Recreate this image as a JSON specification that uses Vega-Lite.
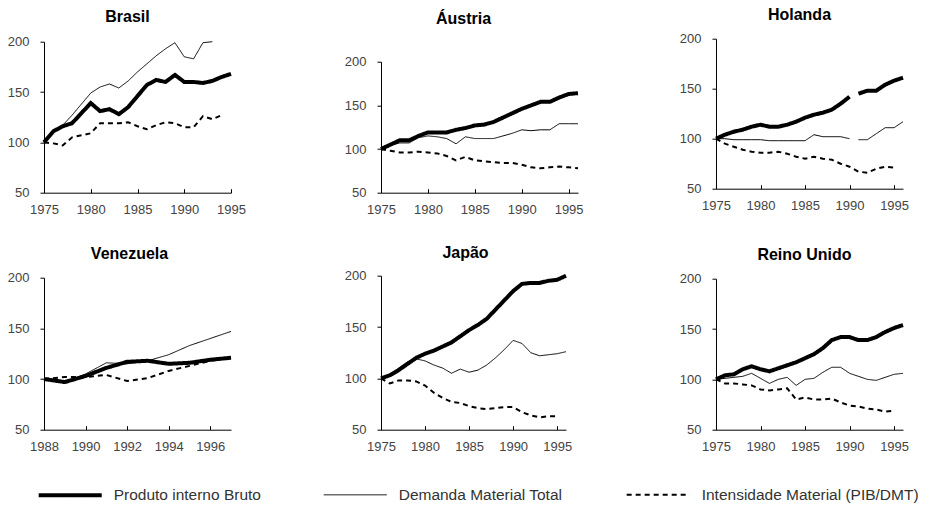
{
  "$schema": "https://vega.github.io/schema/vega-lite/v6.json",
  "background": "white",
  "padding": {"left": 7, "top": 6.7, "right": 0, "bottom": 0},
  "datasets": {
    "d": [
      {"p":"Brasil","s":"PIB","a":1975,"v":100},{"p":"Brasil","s":"PIB","a":1976,"v":111},{"p":"Brasil","s":"PIB","a":1977,"v":116},{"p":"Brasil","s":"PIB","a":1978,"v":119},{"p":"Brasil","s":"PIB","a":1979,"v":129},{"p":"Brasil","s":"PIB","a":1980,"v":139},{"p":"Brasil","s":"PIB","a":1981,"v":131},{"p":"Brasil","s":"PIB","a":1982,"v":133},{"p":"Brasil","s":"PIB","a":1983,"v":128},{"p":"Brasil","s":"PIB","a":1984,"v":135},{"p":"Brasil","s":"PIB","a":1985,"v":146},{"p":"Brasil","s":"PIB","a":1986,"v":157},{"p":"Brasil","s":"PIB","a":1987,"v":162},{"p":"Brasil","s":"PIB","a":1988,"v":160},{"p":"Brasil","s":"PIB","a":1989,"v":167},{"p":"Brasil","s":"PIB","a":1990,"v":160},{"p":"Brasil","s":"PIB","a":1991,"v":160},{"p":"Brasil","s":"PIB","a":1992,"v":159},{"p":"Brasil","s":"PIB","a":1993,"v":161},{"p":"Brasil","s":"PIB","a":1994,"v":165},{"p":"Brasil","s":"PIB","a":1995,"v":168},
      {"p":"Brasil","s":"DMT","a":1975,"v":100},{"p":"Brasil","s":"DMT","a":1976,"v":111},{"p":"Brasil","s":"DMT","a":1977,"v":117},{"p":"Brasil","s":"DMT","a":1978,"v":127},{"p":"Brasil","s":"DMT","a":1979,"v":138},{"p":"Brasil","s":"DMT","a":1980,"v":149},{"p":"Brasil","s":"DMT","a":1981,"v":155},{"p":"Brasil","s":"DMT","a":1982,"v":158},{"p":"Brasil","s":"DMT","a":1983,"v":154},{"p":"Brasil","s":"DMT","a":1984,"v":161},{"p":"Brasil","s":"DMT","a":1985,"v":170},{"p":"Brasil","s":"DMT","a":1986,"v":178},{"p":"Brasil","s":"DMT","a":1987,"v":186},{"p":"Brasil","s":"DMT","a":1988,"v":193},{"p":"Brasil","s":"DMT","a":1989,"v":199},{"p":"Brasil","s":"DMT","a":1990,"v":185},{"p":"Brasil","s":"DMT","a":1991,"v":183},{"p":"Brasil","s":"DMT","a":1992,"v":199},{"p":"Brasil","s":"DMT","a":1993,"v":200},
      {"p":"Brasil","s":"INT","a":1975,"v":100},{"p":"Brasil","s":"INT","a":1976,"v":99},{"p":"Brasil","s":"INT","a":1977,"v":97},{"p":"Brasil","s":"INT","a":1978,"v":105},{"p":"Brasil","s":"INT","a":1979,"v":107},{"p":"Brasil","s":"INT","a":1980,"v":109},{"p":"Brasil","s":"INT","a":1981,"v":119},{"p":"Brasil","s":"INT","a":1982,"v":119},{"p":"Brasil","s":"INT","a":1983,"v":119},{"p":"Brasil","s":"INT","a":1984,"v":120},{"p":"Brasil","s":"INT","a":1985,"v":116},{"p":"Brasil","s":"INT","a":1986,"v":113},{"p":"Brasil","s":"INT","a":1987,"v":117},{"p":"Brasil","s":"INT","a":1988,"v":120},{"p":"Brasil","s":"INT","a":1989,"v":119},{"p":"Brasil","s":"INT","a":1990,"v":115},{"p":"Brasil","s":"INT","a":1991,"v":115},{"p":"Brasil","s":"INT","a":1992,"v":126},{"p":"Brasil","s":"INT","a":1993,"v":123},{"p":"Brasil","s":"INT","a":1994,"v":127},

      {"p":"Austria","s":"PIB","a":1975,"v":100},{"p":"Austria","s":"PIB","a":1976,"v":105},{"p":"Austria","s":"PIB","a":1977,"v":110},{"p":"Austria","s":"PIB","a":1978,"v":110},{"p":"Austria","s":"PIB","a":1979,"v":115},{"p":"Austria","s":"PIB","a":1980,"v":119},{"p":"Austria","s":"PIB","a":1981,"v":119},{"p":"Austria","s":"PIB","a":1982,"v":119},{"p":"Austria","s":"PIB","a":1983,"v":122},{"p":"Austria","s":"PIB","a":1984,"v":124},{"p":"Austria","s":"PIB","a":1985,"v":127},{"p":"Austria","s":"PIB","a":1986,"v":128},{"p":"Austria","s":"PIB","a":1987,"v":131},{"p":"Austria","s":"PIB","a":1988,"v":136},{"p":"Austria","s":"PIB","a":1989,"v":141},{"p":"Austria","s":"PIB","a":1990,"v":146},{"p":"Austria","s":"PIB","a":1991,"v":150},{"p":"Austria","s":"PIB","a":1992,"v":154},{"p":"Austria","s":"PIB","a":1993,"v":154},{"p":"Austria","s":"PIB","a":1994,"v":159},{"p":"Austria","s":"PIB","a":1995,"v":163},{"p":"Austria","s":"PIB","a":1996,"v":164},
      {"p":"Austria","s":"DMT","a":1975,"v":100},{"p":"Austria","s":"DMT","a":1976,"v":104},{"p":"Austria","s":"DMT","a":1977,"v":107},{"p":"Austria","s":"DMT","a":1978,"v":107},{"p":"Austria","s":"DMT","a":1979,"v":113},{"p":"Austria","s":"DMT","a":1980,"v":115},{"p":"Austria","s":"DMT","a":1981,"v":114},{"p":"Austria","s":"DMT","a":1982,"v":112},{"p":"Austria","s":"DMT","a":1983,"v":106},{"p":"Austria","s":"DMT","a":1984,"v":114},{"p":"Austria","s":"DMT","a":1985,"v":112},{"p":"Austria","s":"DMT","a":1986,"v":112},{"p":"Austria","s":"DMT","a":1987,"v":112},{"p":"Austria","s":"DMT","a":1988,"v":115},{"p":"Austria","s":"DMT","a":1989,"v":118},{"p":"Austria","s":"DMT","a":1990,"v":122},{"p":"Austria","s":"DMT","a":1991,"v":121},{"p":"Austria","s":"DMT","a":1992,"v":122},{"p":"Austria","s":"DMT","a":1993,"v":122},{"p":"Austria","s":"DMT","a":1994,"v":129},{"p":"Austria","s":"DMT","a":1995,"v":129},{"p":"Austria","s":"DMT","a":1996,"v":129},
      {"p":"Austria","s":"INT","a":1975,"v":100},{"p":"Austria","s":"INT","a":1976,"v":98},{"p":"Austria","s":"INT","a":1977,"v":96},{"p":"Austria","s":"INT","a":1978,"v":96},{"p":"Austria","s":"INT","a":1979,"v":97},{"p":"Austria","s":"INT","a":1980,"v":96},{"p":"Austria","s":"INT","a":1981,"v":95},{"p":"Austria","s":"INT","a":1982,"v":92},{"p":"Austria","s":"INT","a":1983,"v":87},{"p":"Austria","s":"INT","a":1984,"v":91},{"p":"Austria","s":"INT","a":1985,"v":87},{"p":"Austria","s":"INT","a":1986,"v":86},{"p":"Austria","s":"INT","a":1987,"v":85},{"p":"Austria","s":"INT","a":1988,"v":84},{"p":"Austria","s":"INT","a":1989,"v":84},{"p":"Austria","s":"INT","a":1990,"v":82},{"p":"Austria","s":"INT","a":1991,"v":79},{"p":"Austria","s":"INT","a":1992,"v":78},{"p":"Austria","s":"INT","a":1993,"v":79},{"p":"Austria","s":"INT","a":1994,"v":80},{"p":"Austria","s":"INT","a":1995,"v":79},{"p":"Austria","s":"INT","a":1996,"v":78},

      {"p":"Holanda","s":"PIB","a":1975,"v":100},{"p":"Holanda","s":"PIB","a":1976,"v":104},{"p":"Holanda","s":"PIB","a":1977,"v":107},{"p":"Holanda","s":"PIB","a":1978,"v":109},{"p":"Holanda","s":"PIB","a":1979,"v":112},{"p":"Holanda","s":"PIB","a":1980,"v":114},{"p":"Holanda","s":"PIB","a":1981,"v":112},{"p":"Holanda","s":"PIB","a":1982,"v":112},{"p":"Holanda","s":"PIB","a":1983,"v":114},{"p":"Holanda","s":"PIB","a":1984,"v":117},{"p":"Holanda","s":"PIB","a":1985,"v":121},{"p":"Holanda","s":"PIB","a":1986,"v":124},{"p":"Holanda","s":"PIB","a":1987,"v":126},{"p":"Holanda","s":"PIB","a":1988,"v":129},{"p":"Holanda","s":"PIB","a":1989,"v":135},{"p":"Holanda","s":"PIB","a":1990,"v":142},{"p":"Holanda","s":"PIB","a":1990.5,"v":null},{"p":"Holanda","s":"PIB","a":1991,"v":145},{"p":"Holanda","s":"PIB","a":1992,"v":148},{"p":"Holanda","s":"PIB","a":1993,"v":148},{"p":"Holanda","s":"PIB","a":1994,"v":154},{"p":"Holanda","s":"PIB","a":1995,"v":158},{"p":"Holanda","s":"PIB","a":1996,"v":161},
      {"p":"Holanda","s":"DMT","a":1975,"v":100},{"p":"Holanda","s":"DMT","a":1976,"v":100},{"p":"Holanda","s":"DMT","a":1977,"v":99},{"p":"Holanda","s":"DMT","a":1978,"v":99},{"p":"Holanda","s":"DMT","a":1979,"v":99},{"p":"Holanda","s":"DMT","a":1980,"v":99},{"p":"Holanda","s":"DMT","a":1981,"v":98},{"p":"Holanda","s":"DMT","a":1982,"v":98},{"p":"Holanda","s":"DMT","a":1983,"v":98},{"p":"Holanda","s":"DMT","a":1984,"v":98},{"p":"Holanda","s":"DMT","a":1985,"v":98},{"p":"Holanda","s":"DMT","a":1986,"v":104},{"p":"Holanda","s":"DMT","a":1987,"v":102},{"p":"Holanda","s":"DMT","a":1988,"v":102},{"p":"Holanda","s":"DMT","a":1989,"v":102},{"p":"Holanda","s":"DMT","a":1990,"v":100},{"p":"Holanda","s":"DMT","a":1990.5,"v":null},{"p":"Holanda","s":"DMT","a":1991,"v":99},{"p":"Holanda","s":"DMT","a":1992,"v":99},{"p":"Holanda","s":"DMT","a":1993,"v":105},{"p":"Holanda","s":"DMT","a":1994,"v":111},{"p":"Holanda","s":"DMT","a":1995,"v":111},{"p":"Holanda","s":"DMT","a":1996,"v":117},
      {"p":"Holanda","s":"INT","a":1975,"v":100},{"p":"Holanda","s":"INT","a":1976,"v":95},{"p":"Holanda","s":"INT","a":1977,"v":92},{"p":"Holanda","s":"INT","a":1978,"v":89},{"p":"Holanda","s":"INT","a":1979,"v":87},{"p":"Holanda","s":"INT","a":1980,"v":86},{"p":"Holanda","s":"INT","a":1981,"v":86},{"p":"Holanda","s":"INT","a":1982,"v":87},{"p":"Holanda","s":"INT","a":1983,"v":85},{"p":"Holanda","s":"INT","a":1984,"v":82},{"p":"Holanda","s":"INT","a":1985,"v":80},{"p":"Holanda","s":"INT","a":1986,"v":82},{"p":"Holanda","s":"INT","a":1987,"v":80},{"p":"Holanda","s":"INT","a":1988,"v":79},{"p":"Holanda","s":"INT","a":1989,"v":75},{"p":"Holanda","s":"INT","a":1990,"v":72},{"p":"Holanda","s":"INT","a":1991,"v":67},{"p":"Holanda","s":"INT","a":1992,"v":66},{"p":"Holanda","s":"INT","a":1993,"v":70},{"p":"Holanda","s":"INT","a":1994,"v":72},{"p":"Holanda","s":"INT","a":1995,"v":71},

      {"p":"Venezuela","s":"PIB","a":1988,"v":100},{"p":"Venezuela","s":"PIB","a":1989,"v":97},{"p":"Venezuela","s":"PIB","a":1990,"v":103},{"p":"Venezuela","s":"PIB","a":1991,"v":111},{"p":"Venezuela","s":"PIB","a":1992,"v":117},{"p":"Venezuela","s":"PIB","a":1993,"v":118},{"p":"Venezuela","s":"PIB","a":1994,"v":115},{"p":"Venezuela","s":"PIB","a":1995,"v":116},{"p":"Venezuela","s":"PIB","a":1996,"v":119},{"p":"Venezuela","s":"PIB","a":1997,"v":121},
      {"p":"Venezuela","s":"DMT","a":1988,"v":100},{"p":"Venezuela","s":"DMT","a":1989,"v":97},{"p":"Venezuela","s":"DMT","a":1990,"v":105},{"p":"Venezuela","s":"DMT","a":1991,"v":116},{"p":"Venezuela","s":"DMT","a":1992,"v":115},{"p":"Venezuela","s":"DMT","a":1993,"v":118},{"p":"Venezuela","s":"DMT","a":1994,"v":124},{"p":"Venezuela","s":"DMT","a":1995,"v":133},{"p":"Venezuela","s":"DMT","a":1996,"v":140},{"p":"Venezuela","s":"DMT","a":1997,"v":147},
      {"p":"Venezuela","s":"INT","a":1988,"v":100},{"p":"Venezuela","s":"INT","a":1989,"v":102},{"p":"Venezuela","s":"INT","a":1990,"v":102},{"p":"Venezuela","s":"INT","a":1991,"v":104},{"p":"Venezuela","s":"INT","a":1992,"v":98},{"p":"Venezuela","s":"INT","a":1993,"v":101},{"p":"Venezuela","s":"INT","a":1994,"v":108},{"p":"Venezuela","s":"INT","a":1995,"v":113},{"p":"Venezuela","s":"INT","a":1996,"v":118},{"p":"Venezuela","s":"INT","a":1997,"v":121},

      {"p":"Japao","s":"PIB","a":1975,"v":100},{"p":"Japao","s":"PIB","a":1976,"v":103},{"p":"Japao","s":"PIB","a":1977,"v":108},{"p":"Japao","s":"PIB","a":1978,"v":114},{"p":"Japao","s":"PIB","a":1979,"v":120},{"p":"Japao","s":"PIB","a":1980,"v":124},{"p":"Japao","s":"PIB","a":1981,"v":127},{"p":"Japao","s":"PIB","a":1982,"v":131},{"p":"Japao","s":"PIB","a":1983,"v":135},{"p":"Japao","s":"PIB","a":1984,"v":141},{"p":"Japao","s":"PIB","a":1985,"v":147},{"p":"Japao","s":"PIB","a":1986,"v":152},{"p":"Japao","s":"PIB","a":1987,"v":158},{"p":"Japao","s":"PIB","a":1988,"v":167},{"p":"Japao","s":"PIB","a":1989,"v":176},{"p":"Japao","s":"PIB","a":1990,"v":185},{"p":"Japao","s":"PIB","a":1991,"v":192},{"p":"Japao","s":"PIB","a":1992,"v":193},{"p":"Japao","s":"PIB","a":1993,"v":193},{"p":"Japao","s":"PIB","a":1994,"v":195},{"p":"Japao","s":"PIB","a":1995,"v":196},{"p":"Japao","s":"PIB","a":1996,"v":200},
      {"p":"Japao","s":"DMT","a":1975,"v":100},{"p":"Japao","s":"DMT","a":1976,"v":104},{"p":"Japao","s":"DMT","a":1977,"v":110},{"p":"Japao","s":"DMT","a":1978,"v":116},{"p":"Japao","s":"DMT","a":1979,"v":119},{"p":"Japao","s":"DMT","a":1980,"v":117},{"p":"Japao","s":"DMT","a":1981,"v":113},{"p":"Japao","s":"DMT","a":1982,"v":110},{"p":"Japao","s":"DMT","a":1983,"v":105},{"p":"Japao","s":"DMT","a":1984,"v":109},{"p":"Japao","s":"DMT","a":1985,"v":106},{"p":"Japao","s":"DMT","a":1986,"v":108},{"p":"Japao","s":"DMT","a":1987,"v":113},{"p":"Japao","s":"DMT","a":1988,"v":120},{"p":"Japao","s":"DMT","a":1989,"v":128},{"p":"Japao","s":"DMT","a":1990,"v":137},{"p":"Japao","s":"DMT","a":1991,"v":134},{"p":"Japao","s":"DMT","a":1992,"v":125},{"p":"Japao","s":"DMT","a":1993,"v":122},{"p":"Japao","s":"DMT","a":1994,"v":123},{"p":"Japao","s":"DMT","a":1995,"v":124},{"p":"Japao","s":"DMT","a":1996,"v":126},
      {"p":"Japao","s":"INT","a":1975,"v":100},{"p":"Japao","s":"INT","a":1976,"v":95},{"p":"Japao","s":"INT","a":1977,"v":98},{"p":"Japao","s":"INT","a":1978,"v":98},{"p":"Japao","s":"INT","a":1979,"v":97},{"p":"Japao","s":"INT","a":1980,"v":93},{"p":"Japao","s":"INT","a":1981,"v":86},{"p":"Japao","s":"INT","a":1982,"v":81},{"p":"Japao","s":"INT","a":1983,"v":77},{"p":"Japao","s":"INT","a":1984,"v":76},{"p":"Japao","s":"INT","a":1985,"v":73},{"p":"Japao","s":"INT","a":1986,"v":71},{"p":"Japao","s":"INT","a":1987,"v":70},{"p":"Japao","s":"INT","a":1988,"v":71},{"p":"Japao","s":"INT","a":1989,"v":72},{"p":"Japao","s":"INT","a":1990,"v":72},{"p":"Japao","s":"INT","a":1991,"v":67},{"p":"Japao","s":"INT","a":1992,"v":64},{"p":"Japao","s":"INT","a":1993,"v":62},{"p":"Japao","s":"INT","a":1994,"v":63},{"p":"Japao","s":"INT","a":1995,"v":63},

      {"p":"Reino Unido","s":"PIB","a":1975,"v":100},{"p":"Reino Unido","s":"PIB","a":1976,"v":104},{"p":"Reino Unido","s":"PIB","a":1977,"v":105},{"p":"Reino Unido","s":"PIB","a":1978,"v":110},{"p":"Reino Unido","s":"PIB","a":1979,"v":113},{"p":"Reino Unido","s":"PIB","a":1980,"v":110},{"p":"Reino Unido","s":"PIB","a":1981,"v":108},{"p":"Reino Unido","s":"PIB","a":1982,"v":111},{"p":"Reino Unido","s":"PIB","a":1983,"v":114},{"p":"Reino Unido","s":"PIB","a":1984,"v":117},{"p":"Reino Unido","s":"PIB","a":1985,"v":121},{"p":"Reino Unido","s":"PIB","a":1986,"v":125},{"p":"Reino Unido","s":"PIB","a":1987,"v":131},{"p":"Reino Unido","s":"PIB","a":1988,"v":139},{"p":"Reino Unido","s":"PIB","a":1989,"v":142},{"p":"Reino Unido","s":"PIB","a":1990,"v":142},{"p":"Reino Unido","s":"PIB","a":1991,"v":139},{"p":"Reino Unido","s":"PIB","a":1992,"v":139},{"p":"Reino Unido","s":"PIB","a":1993,"v":142},{"p":"Reino Unido","s":"PIB","a":1994,"v":147},{"p":"Reino Unido","s":"PIB","a":1995,"v":151},{"p":"Reino Unido","s":"PIB","a":1996,"v":154},
      {"p":"Reino Unido","s":"DMT","a":1975,"v":100},{"p":"Reino Unido","s":"DMT","a":1976,"v":101},{"p":"Reino Unido","s":"DMT","a":1977,"v":102},{"p":"Reino Unido","s":"DMT","a":1978,"v":103},{"p":"Reino Unido","s":"DMT","a":1979,"v":106},{"p":"Reino Unido","s":"DMT","a":1980,"v":101},{"p":"Reino Unido","s":"DMT","a":1981,"v":96},{"p":"Reino Unido","s":"DMT","a":1982,"v":100},{"p":"Reino Unido","s":"DMT","a":1983,"v":102},{"p":"Reino Unido","s":"DMT","a":1984,"v":94},{"p":"Reino Unido","s":"DMT","a":1985,"v":100},{"p":"Reino Unido","s":"DMT","a":1986,"v":101},{"p":"Reino Unido","s":"DMT","a":1987,"v":107},{"p":"Reino Unido","s":"DMT","a":1988,"v":112},{"p":"Reino Unido","s":"DMT","a":1989,"v":112},{"p":"Reino Unido","s":"DMT","a":1990,"v":106},{"p":"Reino Unido","s":"DMT","a":1991,"v":103},{"p":"Reino Unido","s":"DMT","a":1992,"v":100},{"p":"Reino Unido","s":"DMT","a":1993,"v":99},{"p":"Reino Unido","s":"DMT","a":1994,"v":102},{"p":"Reino Unido","s":"DMT","a":1995,"v":105},{"p":"Reino Unido","s":"DMT","a":1996,"v":106},
      {"p":"Reino Unido","s":"INT","a":1975,"v":100},{"p":"Reino Unido","s":"INT","a":1976,"v":96},{"p":"Reino Unido","s":"INT","a":1977,"v":96},{"p":"Reino Unido","s":"INT","a":1978,"v":95},{"p":"Reino Unido","s":"INT","a":1979,"v":94},{"p":"Reino Unido","s":"INT","a":1980,"v":90},{"p":"Reino Unido","s":"INT","a":1981,"v":89},{"p":"Reino Unido","s":"INT","a":1982,"v":90},{"p":"Reino Unido","s":"INT","a":1983,"v":91},{"p":"Reino Unido","s":"INT","a":1984,"v":80},{"p":"Reino Unido","s":"INT","a":1985,"v":82},{"p":"Reino Unido","s":"INT","a":1986,"v":80},{"p":"Reino Unido","s":"INT","a":1987,"v":80},{"p":"Reino Unido","s":"INT","a":1988,"v":81},{"p":"Reino Unido","s":"INT","a":1989,"v":77},{"p":"Reino Unido","s":"INT","a":1990,"v":74},{"p":"Reino Unido","s":"INT","a":1991,"v":73},{"p":"Reino Unido","s":"INT","a":1992,"v":71},{"p":"Reino Unido","s":"INT","a":1993,"v":70},{"p":"Reino Unido","s":"INT","a":1994,"v":68},{"p":"Reino Unido","s":"INT","a":1995,"v":69}
    ]
  },
  "data": {"name": "d"},
  "vconcat": [
    {
      "hconcat": [
        {
          "title": {"text": "Brasil", "dx": -10, "offset": 10.5},
          "width": 187, "height": 154,
          "transform": [{"filter": "datum.p == 'Brasil'"}],
          "mark": {"type": "line", "color": "black"},
          "encoding": {
            "x": {"field": "a", "type": "quantitative", "scale": {"domain": [1975, 1995], "nice": false, "zero": false}, "axis": {"values": [1975, 1980, 1985, 1990, 1995], "format": "d", "title": null}},
            "y": {"field": "v", "type": "quantitative", "scale": {"domain": [50, 200], "range": [154, 3], "nice": false, "zero": false}, "axis": {"values": [50, 100, 150, 200], "title": null}},
            "strokeDash": {"field": "s", "type": "nominal", "scale": {"domain": ["PIB", "DMT", "INT"], "range": [[1, 0], [1, 0], [5, 4]]}, "legend": {"title": null, "orient": "none", "legendX": 17.7, "legendY": 448, "direction": "horizontal", "columns": 3, "columnPadding": 59, "labelExpr": "datum.value == 'PIB' ? 'Produto interno Bruto' : datum.value == 'DMT' ? 'Demanda Material Total' : 'Intensidade Material (PIB/DMT)'"}},
            "strokeWidth": {"field": "s", "type": "nominal", "scale": {"type": "ordinal", "domain": ["PIB", "DMT", "INT"], "range": [4, 1, 2]}, "legend": {"title": null, "orient": "none", "legendX": 17.7, "legendY": 448, "direction": "horizontal", "columns": 3, "columnPadding": 59, "labelExpr": "datum.value == 'PIB' ? 'Produto interno Bruto' : datum.value == 'DMT' ? 'Demanda Material Total' : 'Intensidade Material (PIB/DMT)'"}}
          }
        },
        {
          "hconcat": [
            {
              "title": {"text": "Áustria", "dx": -16, "offset": 12},
              "width": 197, "height": 154,
              "transform": [{"filter": "datum.p == 'Austria'"}],
              "mark": {"type": "line", "color": "black"},
              "encoding": {
                "x": {"field": "a", "type": "quantitative", "scale": {"domain": [1975, 1996], "nice": false, "zero": false}, "axis": {"values": [1975, 1980, 1985, 1990, 1995], "format": "d", "title": null}},
                "y": {"field": "v", "type": "quantitative", "scale": {"domain": [50, 200], "range": [154, 23], "nice": false, "zero": false}, "axis": {"values": [50, 100, 150, 200], "title": null}},
                "strokeDash": {"field": "s", "type": "nominal", "scale": {"domain": ["PIB", "DMT", "INT"], "range": [[1, 0], [1, 0], [5, 4]]}, "legend": null},
                "strokeWidth": {"field": "s", "type": "nominal", "scale": {"type": "ordinal", "domain": ["PIB", "DMT", "INT"], "range": [4, 1, 2]}, "legend": null}
              }
            },
            {
              "title": {"text": "Holanda", "dx": -10, "offset": 9.3},
              "width": 187, "height": 150,
              "transform": [{"filter": "datum.p == 'Holanda'"}],
              "mark": {"type": "line", "color": "black"},
              "encoding": {
                "x": {"field": "a", "type": "quantitative", "scale": {"domain": [1975, 1996], "nice": false, "zero": false}, "axis": {"values": [1975, 1980, 1985, 1990, 1995], "format": "d", "title": null}},
                "y": {"field": "v", "type": "quantitative", "scale": {"domain": [50, 200], "range": [150, 0], "nice": false, "zero": false}, "axis": {"values": [50, 100, 150, 200], "title": null}},
                "strokeDash": {"field": "s", "type": "nominal", "scale": {"domain": ["PIB", "DMT", "INT"], "range": [[1, 0], [1, 0], [5, 4]]}, "legend": null},
                "strokeWidth": {"field": "s", "type": "nominal", "scale": {"type": "ordinal", "domain": ["PIB", "DMT", "INT"], "range": [4, 1, 2]}, "legend": null}
              }
            }
          ],
          "spacing": 138, "bounds": "flush"
        }
      ],
      "spacing": 150, "bounds": "flush"
    },
    {
      "hconcat": [
        {
          "title": {"text": "Venezuela", "dx": -8, "offset": 9.5},
          "width": 187, "height": 154,
          "transform": [{"filter": "datum.p == 'Venezuela'"}],
          "mark": {"type": "line", "color": "black"},
          "encoding": {
            "x": {"field": "a", "type": "quantitative", "scale": {"domain": [1988, 1997], "nice": false, "zero": false}, "axis": {"values": [1988, 1990, 1992, 1994, 1996], "format": "d", "title": null}},
            "y": {"field": "v", "type": "quantitative", "scale": {"domain": [50, 200], "range": [154, 2], "nice": false, "zero": false}, "axis": {"values": [50, 100, 150, 200], "title": null}},
            "strokeDash": {"field": "s", "type": "nominal", "scale": {"domain": ["PIB", "DMT", "INT"], "range": [[1, 0], [1, 0], [5, 4]]}, "legend": null},
            "strokeWidth": {"field": "s", "type": "nominal", "scale": {"type": "ordinal", "domain": ["PIB", "DMT", "INT"], "range": [4, 1, 2]}, "legend": null}
          }
        },
        {
          "title": {"text": "Japão", "dx": -8, "offset": 7},
          "width": 185, "height": 154,
          "transform": [{"filter": "datum.p == 'Japao'"}],
          "mark": {"type": "line", "color": "black"},
          "encoding": {
            "x": {"field": "a", "type": "quantitative", "scale": {"domain": [1975, 1996], "nice": false, "zero": false}, "axis": {"values": [1975, 1980, 1985, 1990, 1995], "format": "d", "title": null}},
            "y": {"field": "v", "type": "quantitative", "scale": {"domain": [50, 200], "range": [154, 0], "nice": false, "zero": false}, "axis": {"values": [50, 100, 150, 200], "title": null}},
            "strokeDash": {"field": "s", "type": "nominal", "scale": {"domain": ["PIB", "DMT", "INT"], "range": [[1, 0], [1, 0], [5, 4]]}, "legend": null},
            "strokeWidth": {"field": "s", "type": "nominal", "scale": {"type": "ordinal", "domain": ["PIB", "DMT", "INT"], "range": [4, 1, 2]}, "legend": null}
          }
        },
        {
          "title": {"text": "Reino Unido", "dx": -5, "offset": 10},
          "width": 187, "height": 154,
          "transform": [{"filter": "datum.p == 'Reino Unido'"}],
          "mark": {"type": "line", "color": "black"},
          "encoding": {
            "x": {"field": "a", "type": "quantitative", "scale": {"domain": [1975, 1996], "nice": false, "zero": false}, "axis": {"values": [1975, 1980, 1985, 1990, 1995], "format": "d", "title": null}},
            "y": {"field": "v", "type": "quantitative", "scale": {"domain": [50, 200], "range": [154, 3], "nice": false, "zero": false}, "axis": {"values": [50, 100, 150, 200], "title": null}},
            "strokeDash": {"field": "s", "type": "nominal", "scale": {"domain": ["PIB", "DMT", "INT"], "range": [[1, 0], [1, 0], [5, 4]]}, "legend": null},
            "strokeWidth": {"field": "s", "type": "nominal", "scale": {"type": "ordinal", "domain": ["PIB", "DMT", "INT"], "range": [4, 1, 2]}, "legend": null}
          }
        }
      ],
      "spacing": 150, "bounds": "flush"
    }
  ],
  "spacing": 28,
  "bounds": "full",
  "resolve": {"scale": {"x": "independent", "y": "independent"}},
  "config": {
    "view": {"stroke": null},
    "font": "Liberation Sans",
    "axis": {"grid": false, "domainColor": "#000", "tickColor": "#000", "domainWidth": 1, "tickWidth": 1, "labelFont": "Liberation Sans", "labelFontSize": 13, "labelColor": "#444", "labelFlush": false, "labelOverlap": false, "labelBound": false},
    "axisY": {"tickSize": 4, "labelPadding": 11},
    "axisX": {"tickSize": -4, "labelPadding": 15},
    "title": {"font": "Liberation Sans", "fontSize": 16, "fontWeight": "bold", "color": "#000", "baseline": "alphabetic", "anchor": "middle"},
    "legend": {"symbolType": "M-5,0H5", "symbolSize": 159, "symbolStrokeColor": "#000", "labelFont": "Liberation Sans", "labelFontSize": 15.5, "labelColor": "#333", "labelOffset": 35, "labelLimit": 400, "padding": 0}
  }
}
